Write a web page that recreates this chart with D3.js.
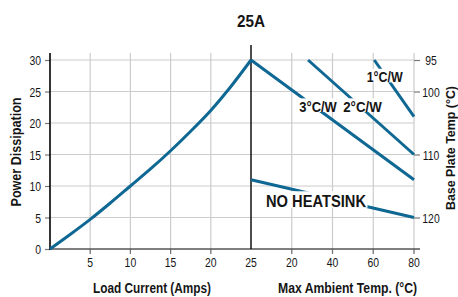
<!DOCTYPE html>
<html><head><meta charset="utf-8">
<script src="https://cdn.jsdelivr.net/npm/d3@7"></script>
<style>
html,body{margin:0;padding:0;background:#fff;}
svg{display:block;}
text{font-family:"Liberation Sans",Arial,sans-serif;}
</style></head><body>
<svg id="c" width="458" height="297"></svg>
<script>
// ---- data ----
const chartTitle = "25A";
const loadCurrent = [0, 2.5, 5, 7.5, 10, 12.5, 15, 17.5, 20, 22.5, 25];
const powerDissipation = [0, 2.3, 4.7, 7.3, 10, 12.7, 15.6, 18.7, 22, 25.8, 30];
const currentTicks = [5, 10, 15, 20, 25];
const ambientTicks = [20, 40, 60, 80];
const powerTicks = [0, 5, 10, 15, 20, 25, 30];
const baseTempTicks = [95, 100, 110, 120];
const deratingNames = ["3°C/W", "2°C/W", "1°C/W", "NO HEATSINK"];
const deratingAmbient = [[0, 80], [28, 80], [60.5, 80], [0, 80]];
const deratingPower = [[30, 11], [30, 15], [30, 21], [11, 5]];

// ---- layout ----
const svg = d3.select("#c");
const xI = d3.scaleLinear().domain([0, 25]).range([50, 251]);
const xT = d3.scaleLinear().domain([0, 80]).range([251, 414]);
const y = d3.scaleLinear().domain([0, 30]).range([249, 60]);
const yB = d3.scaleLinear().domain([125, 95]).range([249, 60]);
const blue = "#0e6893";
const grid = "#cccccc";
const ink = "#151515";
const plotTop = y(31.1), plotBottom = y(0);

// condense text horizontally (reference uses a condensed face)
function condense(sel, f) {
  sel.each(function () {
    const w = this.getComputedTextLength();
    d3.select(this).attr("textLength", w * f).attr("lengthAdjust", "spacingAndGlyphs");
  });
}
function fixWidth(sel, w) {
  sel.attr("textLength", w).attr("lengthAdjust", "spacingAndGlyphs");
}

// horizontal grid
svg.append("g").selectAll("line").data(powerTicks.filter(d => d > 0)).join("line")
  .attr("x1", xI(0)).attr("x2", xT(80)).attr("y1", d => y(d)).attr("y2", d => y(d))
  .attr("stroke", grid).attr("stroke-width", 1.2);
// vertical grid (extend below as ticks)
const vx = currentTicks.filter(d => d < 25).map(d => xI(d)).concat(ambientTicks.map(d => xT(d)));
svg.append("g").selectAll("line").data(vx).join("line")
  .attr("x1", d => d).attr("x2", d => d).attr("y1", plotTop).attr("y2", plotBottom + 5)
  .attr("stroke", grid).attr("stroke-width", 1.2);
svg.append("g").selectAll("line").data(vx).join("line")
  .attr("x1", d => d).attr("x2", d => d).attr("y1", plotBottom).attr("y2", plotBottom + 5)
  .attr("stroke", "#777").attr("stroke-width", 1.2);

// left axis
const yAxis = d3.axisLeft(y).tickValues(powerTicks).tickSize(5).tickPadding(4);
const gy = svg.append("g").attr("transform", `translate(${xI(0)},0)`).call(yAxis);
gy.attr("font-family", null).attr("font-size", null);
gy.select(".domain").remove();
gy.selectAll(".tick line").attr("stroke", "#777").attr("stroke-width", 1.2);
gy.selectAll(".tick text").attr("font-size", 13).attr("fill", ink).attr("dy", "0.36em");
svg.append("line").attr("x1", xI(0)).attr("x2", xI(0)).attr("y1", plotTop).attr("y2", plotBottom + 1)
  .attr("stroke", "#000").attr("stroke-width", 1.6);

// bottom axis line
svg.append("line").attr("x1", xI(0)).attr("x2", xT(80) + 6).attr("y1", plotBottom).attr("y2", plotBottom)
  .attr("stroke", "#555").attr("stroke-width", 1.6);

// bottom tick labels
const bl = svg.append("g").attr("font-size", 13).attr("fill", ink).attr("text-anchor", "middle");
bl.selectAll("text.c").data(currentTicks).join("text").attr("class", "c")
  .attr("x", d => xI(d)).attr("y", 267).text(d => d);
bl.selectAll("text.t").data(ambientTicks).join("text").attr("class", "t")
  .attr("x", d => xT(d)).attr("y", 267).text(d => d);

// right axis
const rAxis = d3.axisRight(yB).tickValues(baseTempTicks).tickSize(6).tickPadding(0);
const gr = svg.append("g").attr("transform", `translate(${xT(80)},0)`).call(rAxis);
gr.attr("font-family", null).attr("font-size", null);
gr.select(".domain").remove();
gr.selectAll(".tick line").attr("stroke", "#777").attr("stroke-width", 1.2);
gr.selectAll(".tick text").attr("font-size", 13).attr("fill", ink)
  .attr("text-anchor", "middle").attr("x", 17).attr("dy", "0.36em");

condense(gy.selectAll(".tick text"), 0.8);
condense(gr.selectAll(".tick text"), 0.8);
condense(bl.selectAll("text"), 0.8);

// divider at 25A
svg.append("line").attr("x1", xI(25)).attr("x2", xI(25)).attr("y1", y(32.4)).attr("y2", plotBottom)
  .attr("stroke", "#000").attr("stroke-width", 1.4);

// power curve
const pts = loadCurrent.map((d, i) => [d, powerDissipation[i]]);
svg.append("path").datum(pts)
  .attr("d", d3.line().x(d => xI(d[0])).y(d => y(d[1])).curve(d3.curveMonotoneX))
  .attr("fill", "none").attr("stroke", blue).attr("stroke-width", 3);

// derating lines
deratingNames.forEach((n, i) => {
  const p = deratingAmbient[i].map((t, j) => [t, deratingPower[i][j]]);
  svg.append("path").datum(p)
    .attr("d", d3.line().x(d => xT(d[0])).y(d => y(d[1])))
    .attr("fill", "none").attr("stroke", blue).attr("stroke-width", 3);
});

// labels with white boxes (anchor in data units: ambient temp, power; font size; width)
const labelAnchor = [[32.9, 21.8, 14, 37.5], [54.7, 21.8, 14, 38.5], [65.6, 26.5, 14, 36], [31.9, 6.6, 17, 100]];
deratingNames.forEach((n, i) => {
  const [t, p, fs, w] = labelAnchor[i];
  const g = svg.append("g");
  const tx = g.append("text").attr("x", xT(t)).attr("y", y(p)).attr("text-anchor", "middle")
    .attr("font-size", fs).attr("font-weight", "bold").attr("fill", ink).text(n);
  fixWidth(tx, w);
  g.insert("rect", "text").attr("x", xT(t) - w / 2 - 1.5).attr("width", w + 3)
    .attr("y", y(p) - fs * 0.95).attr("height", fs * 0.97).attr("fill", "#fff");
});

// titles
fixWidth(svg.append("text").attr("x", xI(25)).attr("y", 26.7).attr("text-anchor", "middle")
  .attr("font-size", 16).attr("font-weight", "bold").attr("fill", ink).text(chartTitle), 28);
fixWidth(svg.append("text").attr("x", 152).attr("y", 293).attr("text-anchor", "middle")
  .attr("font-size", 14).attr("font-weight", "bold").attr("fill", ink).text("Load Current (Amps)"), 118);
fixWidth(svg.append("text").attr("x", 347.5).attr("y", 293).attr("text-anchor", "middle")
  .attr("font-size", 14).attr("font-weight", "bold").attr("fill", ink).text("Max Ambient Temp. (°C)"), 139);
fixWidth(svg.append("text").attr("transform", "translate(20.7,152) rotate(-90)").attr("text-anchor", "middle")
  .attr("font-size", 14).attr("font-weight", "bold").attr("fill", ink).text("Power Dissipation"), 109);
fixWidth(svg.append("text").attr("transform", "translate(455,148) rotate(-90)").attr("text-anchor", "middle")
  .attr("font-size", 13.5).attr("font-weight", "bold").attr("fill", ink).text("Base Plate Temp (°C)"), 124);
</script></body></html>
